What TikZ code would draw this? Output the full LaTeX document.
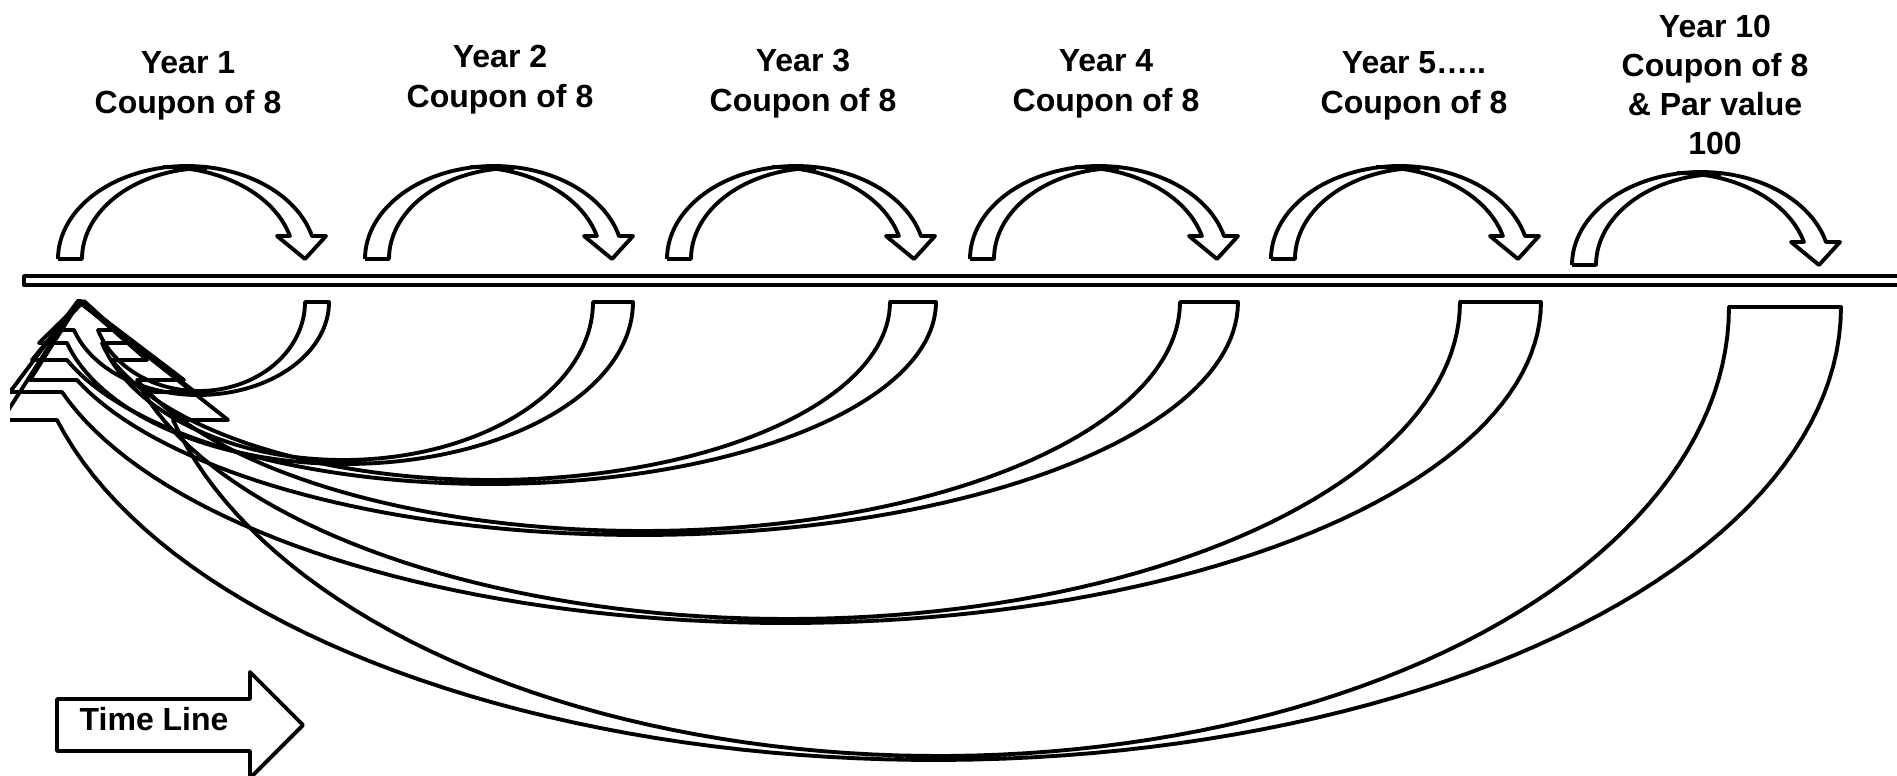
\documentclass[tikz,border=0pt]{standalone}
\usepackage{fontspec}
\setmainfont{Liberation Sans}
\begin{document}
\begin{tikzpicture}[x=0.01cm,y=-0.01cm,
  shapeline/.style={draw=black, line width=1.1pt, line join=round},
  yearlabel/.style={font=\fontsize{9.1}{11.4}\selectfont\bfseries, align=center, inner sep=0pt}]
\useasboundingbox (0,0) rectangle (1897,775);
\clip (10,0) rectangle (1897,775);

% the time axis
\draw[shapeline] (24,276) rectangle (1930,285);

% yearly coupon arrows above the axis
\foreach \X/\Y in {58/259, 365/259, 667/259, 970/259, 1271/259, 1572/265}{
  \draw[shapeline] (\X,\Y)
    -- plot[domain=180:345.7, samples=60, variable=\t] ({\X+129+129*cos(\t)},{\Y+93*sin(\t)})
    -- ({\X+268},{\Y-23}) -- ({\X+247},\Y) -- ({\X+219},{\Y-23}) -- ({\X+232},{\Y-23})
    -- plot[domain=345.5:270, samples=50, variable=\t] ({\X+105+131*cos(\t)},{\Y+92*sin(\t)});
  \draw[shapeline] (\X,\Y) -- ({\X+24},\Y)
    -- plot[domain=180:270, samples=40, variable=\t] ({\X+149+125*cos(\t)},{\Y+91*sin(\t)});
}

% discounting arrows below the axis, back to the start
\foreach \xl/\xr/\yt/\ybot/\yb/\xon/\xin/\ext/\tx in {
   305/329/302/395/330/74/98/18/84,
   593/633/302/464/343/67/102/28/82,
   890/936/302/484/360/67/112/35/80,
   1180/1238/302/535/380/77/137/47/80,
   1460/1541/302/623/392/62/143/52/78,
   1729/1841/307/760/420/57/173/55/78}{
  \pgfmathsetmacro\ryO{\ybot-\yt}
  \pgfmathsetmacro\ryI{\ybot-\yt-4}
  \pgfmathsetmacro\aO{asin((\yb-\yt)/\ryO)}
  \pgfmathsetmacro\aI{asin((\yb-\yt)/\ryI)}
  \pgfmathsetmacro\cxO{(\xon+\xr*cos(\aO))/(1+cos(\aO))}
  \pgfmathsetmacro\cxI{(\xin+\xl*cos(\aI))/(1+cos(\aI))}
  \pgfmathsetmacro\rxO{\xr-\cxO}
  \pgfmathsetmacro\rxI{\xl-\cxI}
  \pgfmathsetmacro\eO{180-\aO}
  \pgfmathsetmacro\eI{180-\aI}
  \draw[shapeline] (\xl,\yt) -- (\xr,\yt)
    -- plot[domain=0:\eO, samples=90, variable=\t] ({\cxO+\rxO*cos(\t)},{\yt+\ryO*sin(\t)})
    -- ({\xon-\ext},\yb) -- (\tx,301) -- ({\xin+\ext},\yb) -- (\xin,\yb)
    -- plot[domain=\eI:0, samples=90, variable=\t] ({\cxI+\rxI*cos(\t)},{\yt+\ryI*sin(\t)})
    -- cycle;
}

% labels
\node[yearlabel] (y1) at (188,86) {Year 1\\Coupon of 8};
\node[yearlabel] (y2) at (500,80) {Year 2\\Coupon of 8};
\node[yearlabel] (y3) at (803,84) {Year 3\\Coupon of 8};
\node[yearlabel] (y4) at (1106,84) {Year 4\\Coupon of 8};
\node[yearlabel] (y5) at (1414,86) {Year 5…..\\Coupon of 8};
\node[yearlabel, font=\fontsize{9.1}{11.1}\selectfont\bfseries] (y10) at (1715,85) {Year 10\\Coupon of 8\\\& Par value\\100};

% direction of time
\draw[shapeline] (57,699) -- (250,699) -- (250,672) -- (303,725) -- (250,778) -- (250,751) -- (57,751) -- cycle;
\node[yearlabel, anchor=west] (timeline) at (79,719) {Time Line};
\end{tikzpicture}
\end{document}
